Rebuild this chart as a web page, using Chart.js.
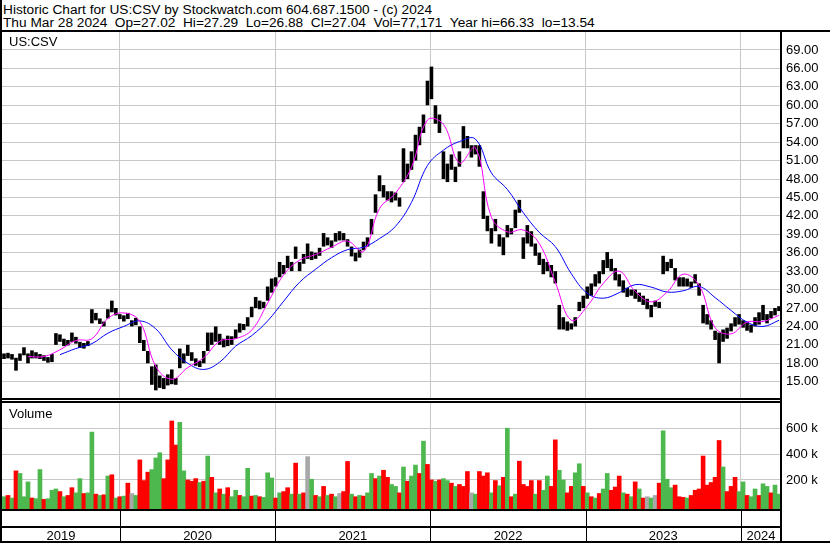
<!DOCTYPE html>
<html><head><meta charset="utf-8">
<script src="https://cdn.jsdelivr.net/npm/chart.js@4.4.1/dist/chart.umd.min.js"></script>
<style>
html,body{margin:0;padding:0;background:#fff;}
#wrap{position:relative;width:830px;height:543px;overflow:hidden;background:#fff;font-family:"Liberation Sans",Arial,sans-serif;color:#000;}
.t{position:absolute;font-size:13px;line-height:13px;white-space:pre;}
.h{font-size:13.7px;}
.ln{position:absolute;background:#000;}
canvas{position:absolute;left:0;}
</style></head><body>
<div id="wrap">
<canvas id="pc" width="830" height="366" style="top:32px"></canvas>
<canvas id="vc" width="830" height="140" style="top:403px"></canvas>
<div class="ln" style="left:0;top:30px;width:830px;height:2px"></div>
<div class="ln" style="left:0;top:398px;width:782px;height:2px"></div>
<div class="ln" style="left:0;top:401px;width:782px;height:2px"></div>
<div class="ln" style="left:780px;top:30px;width:2px;height:513px"></div>
<div class="ln" style="left:0;top:0;width:2px;height:543px"></div>
<div class="ln" style="left:0;top:541px;width:830px;height:2px"></div>
<div class="t h" style="left:3px;top:3px">Historic Chart for US:CSV by Stockwatch.com 604.687.1500 - (c) 2024</div>
<div class="t h" style="left:3px;top:16px">Thu Mar 28 2024  Op=27.02  Hi=27.29  Lo=26.88  Cl=27.04  Vol=77,171  Year hi=66.33  lo=13.54</div>
<div class="t" style="left:9px;top:35px">US:CSV</div>
<div class="t" style="left:9px;top:407px">Volume</div>
</div>
<script>
// ---- data ----
const years = ['2019','2020','2021','2022','2023','2024'];
const startT = 2019.24, endT = 2024.258;   // time span shown (fractional years)
const priceTicks = [15,18,21,24,27,30,33,36,39,42,45,48,51,54,57,60,63,66,69];
const volTicks = [200,400,600];            // thousands

const lo = [18.7,18.8,18.6,16.8,18.4,19.3,18.0,18.8,18.8,18.7,
 18.4,18.1,18.2,21.0,21.5,20.8,20.9,21.5,21.2,20.5,
 20.4,20.8,24.5,25.0,24.4,24.0,25.3,26.3,25.8,25.2,
 24.8,25.2,24.0,24.2,21.3,20.0,18.0,14.5,13.6,14.0,
 13.8,14.4,14.6,14.5,17.2,18.0,19.2,18.4,17.6,17.4,
 18.0,20.0,21.0,21.5,21.0,20.6,20.8,21.0,22.0,23.0,
 23.4,24.0,25.5,27.0,26.8,27.0,28.2,29.5,30.5,32.0,
 32.5,33.5,33.0,35.0,33.0,34.2,35.0,34.8,35.0,35.5,
 37.0,37.2,36.8,37.8,38.0,38.0,37.0,35.4,34.6,35.2,
 36.4,37.0,39.0,42.5,46.0,45.0,44.5,44.2,44.5,43.5,
 47.5,48.0,49.5,51.0,53.5,55.5,60.0,61.0,57.0,55.5,
 48.0,47.5,49.5,47.5,50.0,53.0,53.0,51.5,52.0,50.0,
 41.5,39.5,37.5,39.5,37.0,35.6,38.5,39.0,40.0,42.5,
 35.0,37.5,37.0,35.5,34.0,32.5,33.0,32.0,31.0,23.5,
 23.5,23.3,23.5,24.0,26.5,27.0,28.5,29.0,30.5,31.0,
 32.5,33.5,33.0,31.5,30.5,29.5,28.8,29.0,28.5,28.0,
 27.5,26.8,25.5,27.2,27.0,32.5,33.0,33.5,31.5,30.5,
 30.5,30.5,30.3,31.0,29.0,24.5,24.3,23.5,21.8,18.0,
 21.5,22.0,23.2,24.0,24.3,23.8,23.3,23.0,24.0,24.3,
 25.0,24.5,25.3,25.8,26.5];
const hi = [19.6,19.7,19.5,18.9,19.6,20.6,19.6,20.1,19.8,19.5,
 19.3,19.0,19.5,22.9,22.7,22.0,21.8,23.0,22.3,21.5,
 21.3,21.6,26.8,26.2,25.3,24.8,26.8,28.2,27.0,26.0,
 25.8,26.2,25.0,25.4,24.0,21.8,20.0,17.5,17.8,16.0,
 15.6,16.2,17.0,15.6,20.4,19.6,21.0,19.8,18.8,18.4,
 20.0,23.0,23.0,24.0,22.8,22.0,22.5,22.4,23.5,24.5,
 24.4,25.5,27.2,28.8,28.2,28.0,30.5,31.8,32.0,34.5,
 34.0,35.5,34.5,37.0,34.5,35.8,37.5,36.2,36.0,36.8,
 39.2,38.5,38.0,39.2,39.5,39.2,38.2,37.0,36.0,36.5,
 37.8,38.5,41.5,45.5,48.6,47.0,46.0,46.0,45.8,45.0,
 53.0,50.5,52.5,55.2,56.5,58.5,64.0,66.3,60.0,58.5,
 52.5,50.5,52.0,50.0,52.5,56.6,55.0,53.5,53.5,53.5,
 46.0,42.0,40.0,41.5,39.0,38.5,40.5,40.0,43.0,44.6,
 38.5,40.5,39.5,37.5,36.0,35.0,34.5,34.0,33.0,27.5,
 25.5,24.8,24.5,25.5,28.0,29.0,30.5,31.0,32.5,33.0,
 34.8,36.1,35.0,33.5,32.5,31.5,30.3,30.0,30.0,29.5,
 29.0,28.5,27.5,28.2,28.0,35.5,34.5,35.0,33.5,32.0,
 32.0,31.8,31.3,32.5,31.0,27.5,26.0,25.0,23.3,23.0,
 23.5,23.8,24.5,25.5,26.0,25.0,24.8,24.3,25.5,26.3,
 27.5,26.0,26.5,27.0,27.3];

// moving averages, one reading every 4th price sample (starting at sample 2)
const maFast = [null,19.1,19.1,20.2,21.7,22.0,25.3,26.2,24.8,17.5,
 15.4,17.3,18.9,21.6,22.0,23.4,27.8,32.4,34.8,35.7,
 36.9,37.9,36.2,43.2,45.7,49.9,57.6,56.9,50.6,53.1,
 41.8,39.4,39.7,37.5,31.2,25.0,27.3,31.0,33.0,29.7,
 28.0,29.6,32.5,30.7,23.8,22.8,24.7,24.8,25.8];
const maSlow = [null,null,null,19.4,20.4,21.2,22.9,24.0,24.9,23.6,
 20.2,18.0,17.0,18.2,20.8,22.5,24.9,28.1,31.2,33.3,
 35.2,36.5,36.9,38.3,40.3,44.2,50.2,52.7,54.1,54.5,
 49.0,46.3,42.5,39.3,37.0,32.6,29.4,28.6,29.5,30.8,
 30.4,29.6,29.8,30.5,28.7,26.6,24.7,24.0,25.0];

// volume in thousands, and direction (g = up, r = down, n = unchanged)
const volK = [70,80,60,270,250,70,185,60,55,280,
 50,55,120,130,110,70,80,140,100,210,
 95,100,570,90,80,85,230,240,60,70,
 75,175,95,80,355,195,260,280,370,410,
 210,355,656,470,645,270,200,190,210,180,
 190,385,220,100,130,90,140,70,120,80,
 70,290,75,80,70,65,255,215,60,100,
 110,140,90,330,90,100,380,205,80,70,
 150,80,90,70,95,110,343,90,70,80,
 75,100,250,210,230,275,220,165,150,100,
 300,190,230,315,250,500,320,200,190,200,
 210,195,175,150,165,150,265,100,90,265,
 230,255,100,195,155,220,600,70,90,345,
 165,150,195,90,195,120,230,150,510,275,
 200,100,150,255,325,150,100,70,60,95,
 130,250,120,145,230,100,90,70,185,130,
 60,70,60,80,175,580,205,140,160,70,
 65,60,80,120,130,385,160,180,220,505,
 300,110,150,220,110,185,80,70,130,80,
 170,150,100,160,90];
const volDir = ("grgrgggrgg"+"rgggrgrrgg"+"rggrgrgrgr"+"grngrrrggg"+"rrrrggrrrg"+
 "rgrgrgrggr"+"ggrgrgggrg"+"rrgrgrngrg"+"rgrgnrrgrg"+"rggrgrrggr"+
 "grggrgrrgr"+"ggrgrrrngr"+"rrgrgrgrgr"+"rrrgrggrrg"+"grrggrgrgr"+
 "ggrrrgrgrg"+"rngnrgggrr"+"rgrrrrrrrr"+"grrrggrggr"+"ggrgg").split('');

// ---- chart ----
const FONT = '"Liberation Sans", Arial, sans-serif';
const N = hi.length;
const dt = (endT - startT) / N;
const tOf = i => startT + (i + 0.5) * dt;
const yearBounds = years.slice(1).map(Number);
const dirColor = {g:'#4db84d', r:'#ff0000', n:'#a8a8a8'};
const VMIN = -24.8, VMAX = 795;

function noPad(s) { s.paddingTop = 0; s.paddingBottom = 0; s.paddingLeft = 0; s.paddingRight = 0; }

function xScale() {
  return {
    type:'linear', min:startT, max:endT, offset:false,
    afterBuildTicks: s => { s.ticks = yearBounds.map(v => ({value:v})); },
    afterFit: s => { s.height = 0; noPad(s); },
    ticks:{display:false},
    grid:{color:'#c8c8c8', drawTicks:false, offset:false, lineWidth:1},
    border:{display:false}
  };
}
function yScale(min, max, ticks, cb) {
  return {
    position:'right', min:min, max:max,
    afterBuildTicks: s => { s.ticks = ticks.map(v => ({value:v})); },
    afterFit: s => { s.width = 49; noPad(s); },
    ticks:{color:'#000', font:{family:FONT, size:13}, padding:5, callback:cb},
    grid:{color:'#c8c8c8', drawTicks:false},
    border:{display:true, color:'#000', width:2}
  };
}

new Chart(document.getElementById('pc'), {
  type:'bar',
  data:{datasets:[
    {type:'line', data:maFast.map((v,k)=>({x:tOf(2+4*k), y:v})), borderColor:'#ff00ff',
     borderWidth:1, pointRadius:0, tension:0.4, order:1},
    {type:'line', data:maSlow.map((v,k)=>({x:tOf(2+4*k), y:v})), borderColor:'#0000ff',
     borderWidth:1, pointRadius:0, tension:0.4, order:2},
    {type:'bar', data:hi.map((h,i)=>({x:tOf(i), y:[lo[i], h]})), backgroundColor:'#000',
     borderWidth:0, barPercentage:0.9, categoryPercentage:1, order:3}
  ]},
  options:{
    responsive:false, animation:false, events:[],
    layout:{padding:{left:2, right:0, top:0, bottom:0}},
    plugins:{legend:{display:false}, tooltip:{enabled:false}},
    scales:{
      x:xScale(),
      y:yScale(12.35, 71.93, priceTicks, v => Number(v).toFixed(2))
    }
  }
});

const yearRow = {
  id:'yearRow',
  afterDraw(chart){
    const ctx = chart.ctx, xs = chart.scales.x, a = chart.chartArea;
    const b = [startT, ...yearBounds, endT];
    ctx.save();
    ctx.fillStyle = '#000';
    ctx.fillRect(0, a.bottom, a.right, 2);
    ctx.fillRect(0, a.bottom + 17, a.right, 2);
    for (let j = 1; j < b.length - 1; j++) {
      const px = Math.round(xs.getPixelForValue(b[j]));
      ctx.fillRect(px, a.bottom, 1, chart.height - a.bottom);
    }
    ctx.font = '13px ' + FONT;
    ctx.textAlign = 'center';
    ctx.textBaseline = 'alphabetic';
    for (let j = 0; j < years.length; j++) {
      const cx = (xs.getPixelForValue(b[j]) + xs.getPixelForValue(b[j+1])) / 2;
      ctx.fillText(years[j], cx, a.bottom + 31);
    }
    ctx.restore();
  }
};

new Chart(document.getElementById('vc'), {
  type:'bar',
  data:{datasets:[
    {data:volK.map((v,i)=>({x:tOf(i), y:[VMIN, v]})),
     backgroundColor:volDir.map(d => dirColor[d]),
     borderWidth:0, barPercentage:1, categoryPercentage:1}
  ]},
  options:{
    responsive:false, animation:false, events:[],
    layout:{padding:{left:2, right:0, top:0, bottom:34}},
    plugins:{legend:{display:false}, tooltip:{enabled:false}},
    scales:{
      x:xScale(),
      y:yScale(VMIN, VMAX, volTicks, v => v + ' k')
    }
  },
  plugins:[yearRow]
});
</script>
</body></html>
